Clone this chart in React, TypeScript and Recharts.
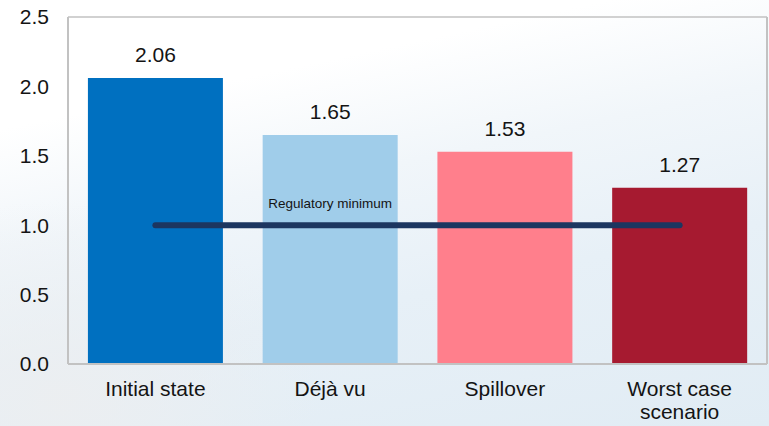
import React from 'react';
import {
  ComposedChart,
  Bar,
  Line,
  XAxis,
  YAxis,
  CartesianGrid,
  LabelList,
  Cell,
  Text,
} from 'recharts';

// Scenario names shown along the category axis
const scenarios = ['Initial state', 'Déjà vu', 'Spillover', 'Worst case scenario'];
// Ratio reached in each scenario
const ratios = [2.06, 1.65, 1.53, 1.27];
// Regulatory floor, drawn across all scenarios
const minimumLevel = [1.0, 1.0, 1.0, 1.0];
const minimumLabel = 'Regulatory minimum';
const minimumLabelIndex = 1;
// Bar fill per scenario
const barColors = ['#0070c0', '#a0cdea', '#ff7f8c', '#a61a30'];
// Value axis ticks
const yTicks = [0, 0.5, 1.0, 1.5, 2.0, 2.5];

const rows = scenarios.map((name, i) => ({
  name,
  ratio: ratios[i],
  minimum: minimumLevel[i],
}));

const FONT = '"Liberation Sans", Arial, sans-serif';
const TEXT_COLOR = '#141414';
const FRAME = '#c2c2c2';
const BIG = 21;

const CategoryTick = (props: any) => {
  const { x, y, payload } = props;
  return (
    <Text
      x={x}
      y={y + 1}
      width={140}
      textAnchor="middle"
      verticalAnchor="start"
      lineHeight="23px"
      style={{ fontSize: BIG, fontFamily: FONT }}
      fontSize={BIG}
      fontFamily={FONT}
      fill={TEXT_COLOR}
    >
      {payload.value}
    </Text>
  );
};

const MinimumLabel = (props: any) => {
  const { x, y, index } = props;
  if (index !== minimumLabelIndex) return null;
  return (
    <text
      x={x}
      y={y - 17}
      textAnchor="middle"
      fontSize={13.5}
      fontFamily={FONT}
      fill={TEXT_COLOR}
    >
      {minimumLabel}
    </text>
  );
};

export default function App() {
  return (
    <div
      style={{
        position: 'absolute',
        left: 0,
        top: 0,
        width: 769,
        height: 426,
        overflow: 'hidden',
        background:
          'radial-gradient(ellipse 260px 200px at 60px 400px, rgba(236,238,240,0.9), rgba(236,238,240,0) 100%), linear-gradient(168deg, #ffffff 0%, #ffffff 22%, #f1f6fa 42%, #e7f0f7 65%, #e1ecf4 100%)',
      }}
    >
      <ComposedChart
        width={769}
        height={426}
        data={rows}
        margin={{ top: 17, right: 0, bottom: 2, left: 0 }}
        barCategoryGap="11.4%"
      >
        <CartesianGrid vertical={false} stroke={FRAME} strokeWidth={1.5} />
        <XAxis
          dataKey="name"
          interval={0}
          tickLine={false}
          tickSize={0}
          tickMargin={16}
          height={60}
          axisLine={{ stroke: FRAME, strokeWidth: 2 }}
          tick={<CategoryTick />}
        />
        <YAxis
          yAxisId="left"
          domain={[0, 2.5]}
          ticks={yTicks}
          width={68}
          tickLine={false}
          tickSize={0}
          tickMargin={19}
          tickFormatter={(v: number) => v.toFixed(1)}
          axisLine={{ stroke: FRAME, strokeWidth: 2 }}
          tick={{ fontSize: BIG, fontFamily: FONT, fill: TEXT_COLOR }}
        />
        <YAxis
          yAxisId="right"
          orientation="right"
          domain={[0, 2.5]}
          ticks={yTicks}
          width={2}
          tick={false}
          tickLine={false}
          axisLine={{ stroke: FRAME, strokeWidth: 2 }}
        />
        <Bar yAxisId="left" dataKey="ratio" isAnimationActive={false}>
          {rows.map((r, i) => (
            <Cell key={r.name} fill={barColors[i]} />
          ))}
          <LabelList
            dataKey="ratio"
            position="top"
            offset={16}
            formatter={(v: any) => Number(v).toFixed(2)}
            style={{ fontSize: BIG, fontFamily: FONT, fill: TEXT_COLOR }}
          />
        </Bar>
        <Line
          yAxisId="left"
          dataKey="minimum"
          stroke="#1c3660"
          strokeWidth={6}
          strokeLinecap="round"
          dot={false}
          activeDot={false}
          isAnimationActive={false}
          label={<MinimumLabel />}
        />
      </ComposedChart>
    </div>
  );
}
